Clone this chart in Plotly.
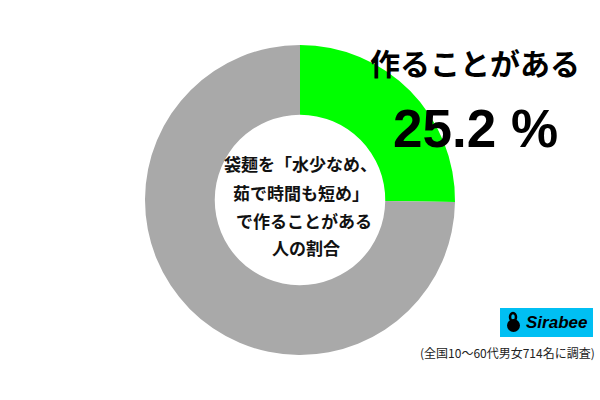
import plotly.graph_objects as go

labels = ["作ることがある", "その他"]
values = [25.2, 74.8]
colors = ["#00FF00", "#A9A9A9"]
title_label = "作ることがある"
title_value = "25.2 %"
center_lines = ["袋麺を「水少なめ、", "茹で時間も短め」", "で作ることがある", "人の割合"]
footnote = "(全国10～60代男女714名に調査)"

fig = go.Figure(go.Pie(
    labels=labels, values=values, hole=0.55, sort=False, direction="clockwise",
    rotation=0, marker=dict(colors=colors, line=dict(width=0)),
    textinfo="none", hoverinfo="label+percent", showlegend=False,
    domain=dict(x=[145/600, 455/600], y=[1-355/400, 1-45/400]),
))

font_jp = "Noto Sans CJK JP"
ann = []
ann.append(dict(x=475/600, y=1-62/400, text="<b>%s</b>" % title_label, showarrow=False,
                font=dict(family=font_jp, size=30, color="black"), xanchor="center", yanchor="middle"))
ann.append(dict(x=475/600, y=1-128/400, text="<b>%s</b>" % title_value, showarrow=False,
                font=dict(family="Liberation Sans", size=53, color="black"), xanchor="center", yanchor="middle"))
ys = [164, 192, 220, 247]
xs = [300, 301, 304, 306]
for t, yy, xx in zip(center_lines, ys, xs):
    ann.append(dict(x=xx/600, y=1-yy/400, text="<b>%s</b>" % t, showarrow=False,
                    font=dict(family=font_jp, size=17, color="#111111"), xanchor="center", yanchor="middle"))
ann.append(dict(x=556/600, y=1-322/400, text="<b><i>Sirabee</i></b>", showarrow=False,
                font=dict(family="Liberation Sans", size=17, color="black"), xanchor="center", yanchor="middle"))
ann.append(dict(x=597/600, y=1-352/400, text=footnote, showarrow=False,
                font=dict(family=font_jp, size=12, color="#222222"), xanchor="right", yanchor="middle"))

shapes = [
    dict(type="rect", xref="paper", yref="paper", x0=500/600, x1=593/600, y0=1-337/400, y1=1-308/400,
         fillcolor="#00BFF3", line=dict(width=0), layer="below"),
    dict(type="circle", xref="paper", yref="paper", x0=507/600, x1=520/600, y0=1-332/400, y1=1-319/400,
         fillcolor="black", line=dict(width=0)),
    dict(type="circle", xref="paper", yref="paper", x0=510/600, x1=516/600, y0=1-321/400, y1=1-313/400,
         fillcolor="rgba(0,0,0,0)", line=dict(width=2.5, color="black")),
]

fig.update_layout(width=600, height=400, margin=dict(l=0, r=0, t=0, b=0),
                  paper_bgcolor="white", plot_bgcolor="white",
                  annotations=ann, shapes=shapes)
fig.write_html("out.html", config={"displayModeBar": False},
               post_script="document.body.style.margin='0';document.body.style.overflow='hidden';")
